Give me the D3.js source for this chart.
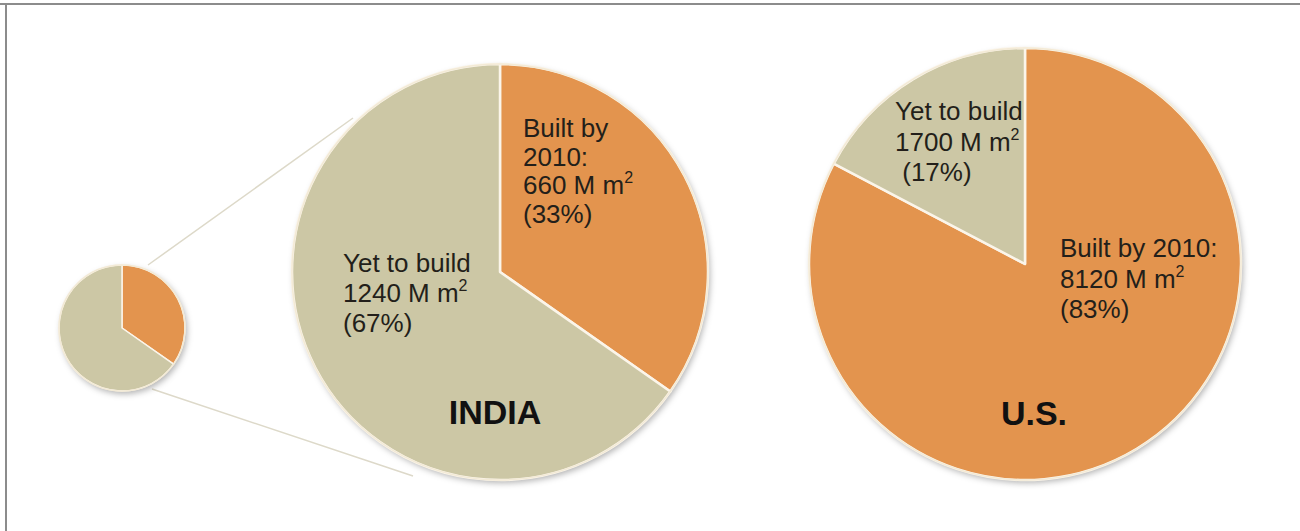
<!DOCTYPE html>
<html>
<head>
<meta charset="utf-8">
<script src="https://cdn.jsdelivr.net/npm/d3@7"></script>
<style>
  html, body { margin: 0; padding: 0; background: #fff; }
  svg { display: block; font-family: "Liberation Sans", Arial, sans-serif; }
</style>
</head>
<body>
<svg id="chart" width="1300" height="531"></svg>
<script>
// Data
const regions = ["INDIA", "U.S."];
const builtBy2010 = [660, 8120];   // M m2
const yetToBuild = [1240, 1700];   // M m2
const builtPct = ["33%", "83%"];
const yetPct = ["67%", "17%"];

const width = 1300;
const height = 531;
const colors = { built: "#e3944e", yet: "#ccc7a5" };

const svg = d3.select("#chart");

// soft drop shadow like the slide
const defs = svg.append("defs");
defs.append("filter")
  .attr("id", "shadow")
  .attr("x", "-20%").attr("y", "-20%")
  .attr("width", "140%").attr("height", "140%")
  .append("feDropShadow")
  .attr("dx", 2).attr("dy", 3)
  .attr("stdDeviation", 3)
  .attr("flood-color", "#000")
  .attr("flood-opacity", 0.3);

// frame (top and left edge only)
svg.append("line")
  .attr("x1", 0).attr("x2", width)
  .attr("y1", 4).attr("y2", 4)
  .attr("stroke", "#8c8c8c").attr("stroke-width", 2);
svg.append("line")
  .attr("x1", 6).attr("x2", 6)
  .attr("y1", 3).attr("y2", height)
  .attr("stroke", "#8c8c8c").attr("stroke-width", 2);

const pie = d3.pie().sort(null).value((d) => d.value);

function sliceData(i) {
  return [
    { key: "built", value: builtBy2010[i] },
    { key: "yet", value: yetToBuild[i] },
  ];
}

function drawPie(cx, cy, r, i) {
  const g = svg.append("g").attr("transform", `translate(${cx},${cy})`);
  const arc = d3.arc().innerRadius(0).outerRadius(r);

  g.append("circle")
    .attr("r", r)
    .attr("fill", colors.yet)
    .attr("filter", "url(#shadow)");

  g.selectAll("path")
    .data(pie(sliceData(i)))
    .enter()
    .append("path")
    .attr("d", arc)
    .attr("fill", (d) => colors[d.data.key])
    .attr("stroke", "#fbf5ea")
    .attr("stroke-width", r > 100 ? 2.5 : 1.5)
    .attr("stroke-linejoin", "round");

  g.append("circle")
    .attr("r", r)
    .attr("fill", "none")
    .attr("stroke", "#f3ead6")
    .attr("stroke-width", 1.5);
  return g;
}

// label block: lines of [text, sup] pairs
function label(g, x, y, lines, lh) {
  const t = g.append("text")
    .attr("x", x).attr("y", y)
    .attr("font-size", 26)
    .attr("fill", "#231f1a");
  lines.forEach((ln, k) => {
    t.append("tspan")
      .attr("x", x)
      .attr("y", y + k * lh)
      .text(ln[0]);
    if (ln[1]) {
      t.append("tspan")
        .attr("font-size", 16)
        .attr("dy", -11)
        .text(ln[1]);
    }
  });
}

// connector lines from the small pie to the big one
const connectors = [
  [[148, 265], [353, 118]],
  [[152, 389], [413, 476]],
];
svg.selectAll(".connector")
  .data(connectors)
  .enter()
  .append("line")
  .attr("class", "connector")
  .attr("x1", (d) => d[0][0]).attr("y1", (d) => d[0][1])
  .attr("x2", (d) => d[1][0]).attr("y2", (d) => d[1][1])
  .attr("stroke", "#ddd9c9")
  .attr("stroke-width", 1.5);

// small copy of India
drawPie(122, 328, 63, 0);

// India
const india = drawPie(500, 272, 208, 0);
label(india, 23, -135, [
  ["Built by"],
  ["2010:"],
  [builtBy2010[0] + " M m", "2"],
  ["(" + builtPct[0] + ")"],
], 28.5);
label(india, -157, 0, [
  ["Yet to build"],
  [yetToBuild[0] + " M m", "2"],
  ["(" + yetPct[0] + ")"],
], 30);
india.append("text")
  .attr("x", -5).attr("y", 152)
  .attr("text-anchor", "middle")
  .attr("font-size", 34)
  .attr("font-weight", "bold")
  .attr("fill", "#111")
  .text(regions[0]);

// U.S.
const us = drawPie(1025, 264, 216, 1);
label(us, -130, -144, [
  ["Yet to build"],
  [yetToBuild[1] + " M m", "2"],
  [" (" + yetPct[1] + ")"],
], 30.5);
label(us, 35, -7, [
  ["Built by 2010:"],
  [builtBy2010[1] + " M m", "2"],
  ["(" + builtPct[1] + ")"],
], 30.5);
us.append("text")
  .attr("x", 9).attr("y", 161)
  .attr("text-anchor", "middle")
  .attr("font-size", 34)
  .attr("font-weight", "bold")
  .attr("fill", "#111")
  .text(regions[1]);
</script>
</body>
</html>
